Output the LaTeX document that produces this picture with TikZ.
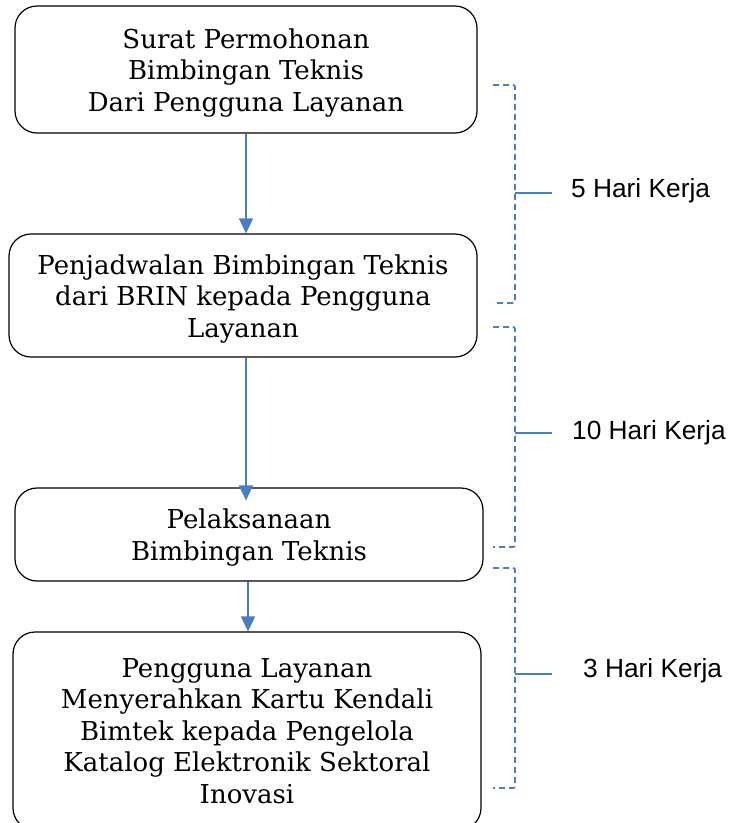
\documentclass[tikz,border=0pt]{standalone}
\usepackage{fontspec}
\setmainfont{DejaVu Serif}
\newfontfamily\labelfont{Liberation Sans}
\usetikzlibrary{arrows.meta}
\definecolor{flowblue}{RGB}{74,126,190}
\newcommand{\topstrut}{\rule{0pt}{26pt}}
\tikzset{
  stepbox/.style={draw=black, line width=1.2pt, rounded corners=22pt, align=center,
    inner sep=0pt, font=\fontsize{26}{31.5}\selectfont},
  flowarrow/.style={draw=flowblue, line width=1.6pt, -{Triangle[width=14pt,length=15pt]}},
  bracketline/.style={draw=flowblue, line width=1.9pt, dash pattern=on 6pt off 4pt, rounded corners=2pt},
  tickline/.style={draw=flowblue, line width=1.6pt},
  daylabel/.style={anchor=west, inner sep=0pt, font=\labelfont\fontsize{26.3}{30}\selectfont}
}
\begin{document}
\begin{tikzpicture}[x=1pt, y=-1pt]
\useasboundingbox (0,0) rectangle (732,823);
% boxes
\node[stepbox, minimum width=462pt, minimum height=127pt] (b1) at (246,69.5)
  {\topstrut Surat Permohonan\\Bimbingan Teknis\\Dari Pengguna Layanan};
\node[stepbox, minimum width=468pt, minimum height=123pt] (b2) at (243,295.5)
  {\topstrut Penjadwalan Bimbingan Teknis\\dari BRIN kepada Pengguna\\Layanan};
\node[stepbox, minimum width=468pt, minimum height=93pt] (b3) at (249,534.5)
  {\topstrut Pelaksanaan\\Bimbingan Teknis};
\node[stepbox, minimum width=468pt, minimum height=198pt] (b4) at (247,731)
  {Pengguna Layanan\\Menyerahkan Kartu Kendali\\Bimtek kepada Pengelola\\Katalog Elektronik Sektoral\\Inovasi};
% arrows
\draw[flowarrow] (b1.south) -- (b1.south |- b2.north);
\coordinate (a2s) at (b1.south |- b2.south);
\coordinate (a2e) at ([yshift=-13pt]b1.south |- b3.north);
\draw[flowarrow] (a2s) -- (a2e);
\coordinate (a3s) at ([xshift=-1pt]b3.south);
\draw[flowarrow] (a3s) -- (a3s |- b4.north);
% brackets
\coordinate (k1a) at (493,85);  \coordinate (k1b) at (515,85);
\coordinate (k1c) at (515,303); \coordinate (k1d) at (493,303);
\coordinate (k1m) at (515,193); \coordinate (k1t) at (552,193);
\draw[bracketline] (k1a) -- (k1b) -- (k1c) -- (k1d);
\draw[tickline] (k1m) -- (k1t);
\node[daylabel] (l1) at (571,191) {5 Hari Kerja};
\coordinate (k2a) at (493,327); \coordinate (k2b) at (515,327);
\coordinate (k2c) at (515,547); \coordinate (k2d) at (493,547);
\coordinate (k2m) at (515,433); \coordinate (k2t) at (552,433);
\draw[bracketline] (k2a) -- (k2b) -- (k2c) -- (k2d);
\draw[tickline] (k2m) -- (k2t);
\node[daylabel] (l2) at (572,433) {10 Hari Kerja};
\coordinate (k3a) at (493,568); \coordinate (k3b) at (515,568);
\coordinate (k3c) at (515,788); \coordinate (k3d) at (493,788);
\coordinate (k3m) at (515,674); \coordinate (k3t) at (552,674);
\draw[bracketline] (k3a) -- (k3b) -- (k3c) -- (k3d);
\draw[tickline] (k3m) -- (k3t);
\node[daylabel] (l3) at (583,671) {3 Hari Kerja};
\end{tikzpicture}
\end{document}
